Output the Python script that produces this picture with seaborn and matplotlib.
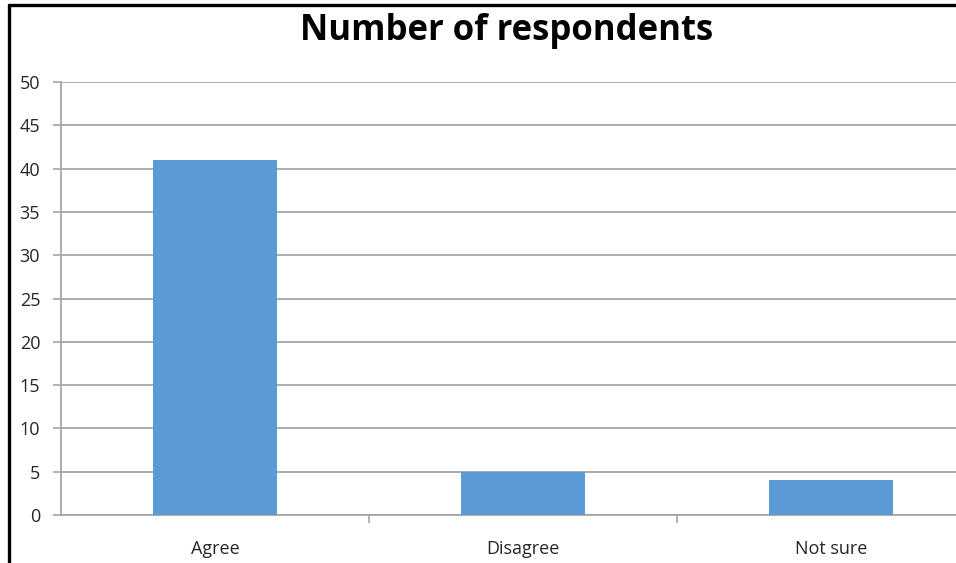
import matplotlib
matplotlib.use("Agg")
import matplotlib.pyplot as plt
import seaborn as sns
import pandas as pd
from matplotlib.lines import Line2D
from matplotlib.ticker import FixedLocator

categories = ["Agree", "Disagree", "Not sure"]
respondents = [41, 5, 4]
y_ticks = [0, 5, 10, 15, 20, 25, 30, 35, 40, 45, 50]

sns.set_theme(style="white")
plt.rcParams["font.family"] = ["Open Sans", "DejaVu Sans"]

W, H = 956, 563
fig = plt.figure(figsize=(W / 100, H / 100), dpi=100)
fig.patch.set_facecolor("white")

# plot area: runs past the right edge of the figure
left, right, top, bottom = 61, 985, 82, 515
ax = fig.add_axes([left / W, (H - bottom) / H, (right - left) / W, (bottom - top) / H])

df = pd.DataFrame({"category": categories, "count": respondents})
sns.barplot(data=df, x="category", y="count", color="#5b9bd5", width=0.4,
            saturation=1, linewidth=0, ax=ax, zorder=3)

ax.set_xlim(-0.5, 2.5)
ax.set_ylim(0, 50)
ax.set_yticks(y_ticks)
ax.set_xlabel("")
ax.set_ylabel("")

grid_c = "#a6a6a6"
ax.yaxis.grid(True, color=grid_c, linewidth=1.3, zorder=0)
ax.set_axisbelow(True)
for s in ["top", "right"]:
    ax.spines[s].set_visible(False)
for s in ["left", "bottom"]:
    ax.spines[s].set_color(grid_c)
    ax.spines[s].set_linewidth(1.3)

ax.tick_params(axis="y", which="major", direction="out", length=6, width=1.2,
               color=grid_c, labelsize=13, labelcolor="#262626", pad=9, left=True)
ax.tick_params(axis="x", which="major", length=0, labelsize=13,
               labelcolor="#262626", pad=18)
ax.xaxis.set_minor_locator(FixedLocator([0.5, 1.5]))
ax.tick_params(axis="x", which="minor", direction="out", length=6, width=1.2,
               color=grid_c, bottom=True)

fig.text(507 / W, 1 - 31 / H, "Number of respondents", ha="center", va="center",
         fontsize=25, fontweight="bold", color="#000000")

# outer frame on the left and top edges
fig.add_artist(Line2D([9 / W, 9 / W], [0, 1 - 5 / H], color="black", linewidth=2.4,
                      transform=fig.transFigure))
fig.add_artist(Line2D([9 / W, 1], [1 - 5 / H, 1 - 5 / H], color="black", linewidth=2.4,
                      transform=fig.transFigure))

fig.savefig("out.png", dpi=100)
